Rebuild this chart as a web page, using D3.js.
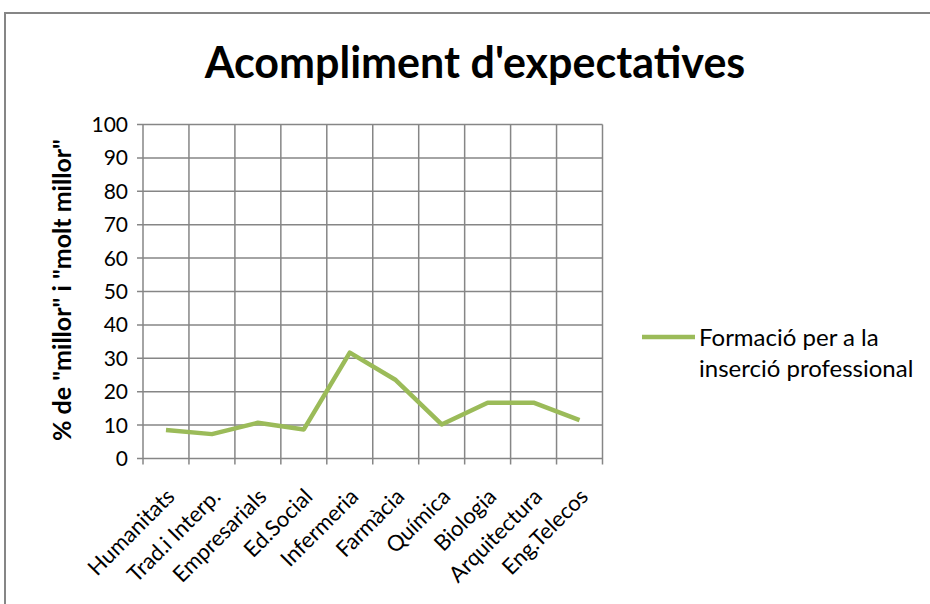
<!DOCTYPE html>
<html>
<head>
<meta charset="utf-8">
<script src="https://cdn.jsdelivr.net/npm/d3@7"></script>
<style>
  body { margin: 0; background: #fff; }
  svg { font-family: Lato, "Open Sans", sans-serif; }
</style>
</head>
<body>
<svg id="chart"></svg>
<script>
var categories = ["Humanitats", "Trad.i Interp.", "Empresarials", "Ed.Social", "Infermeria",
                  "Farmàcia", "Química", "Biologia", "Arquitectura", "Eng.Telecos"];
var values = [8.5, 7.3, 10.7, 8.7, 31.7, 23.5, 10.2, 16.7, 16.7, 11.5];
var seriesName = ["Formació per a la", "inserció professional"];
var yTicks = [0, 10, 20, 30, 40, 50, 60, 70, 80, 90, 100];

var width = 930, height = 604;
var svg = d3.select("#chart").attr("width", width).attr("height", height);

// chart frame
svg.append("rect").attr("x", 5).attr("y", 13).attr("width", 940).attr("height", 620)
  .attr("fill", "#fff").attr("stroke", "#868686").attr("stroke-width", 2);

var plotL = 143, plotR = 602.5, plotT = 124.5, plotB = 458.5;
var x = d3.scaleBand().domain(categories).range([plotL, plotR]);
var y = d3.scaleLinear().domain([0, 100]).range([plotB, plotT]);

// gridlines
var g = svg.append("g");
g.selectAll("line.h").data(yTicks).enter().append("line")
  .attr("x1", plotL - 6).attr("x2", plotR)
  .attr("y1", function(d) { return y(d); }).attr("y2", function(d) { return y(d); })
  .attr("stroke", "#868686").attr("stroke-width", 1.5);
var bounds = categories.map(function(c) { return x(c); }).concat([plotR]);
g.selectAll("line.v").data(bounds).enter().append("line")
  .attr("x1", function(d) { return d; }).attr("x2", function(d) { return d; })
  .attr("y1", plotT).attr("y2", plotB + 6)
  .attr("stroke", "#868686").attr("stroke-width", 1.5);

// y tick labels
svg.selectAll("text.yt").data(yTicks).enter().append("text")
  .attr("x", 128).attr("y", function(d) { return y(d); }).attr("dy", "0.36em")
  .attr("text-anchor", "end").attr("font-size", 21).attr("fill", "#000")
  .text(function(d) { return d; });

// x labels
svg.selectAll("text.xt").data(categories).enter().append("text")
  .attr("text-anchor", "end").attr("font-size", 22).attr("fill", "#000")
  .attr("transform", function(d) {
    return "translate(" + (x(d) + x.bandwidth() / 2 + 10) + "," + 498 + ") rotate(-45)";
  })
  .text(function(d) { return d; });

// line
var line = d3.line()
  .x(function(d, i) { return x(categories[i]) + x.bandwidth() / 2; })
  .y(function(d) { return y(d); });
svg.append("path").datum(values).attr("d", line)
  .attr("fill", "none").attr("stroke", "#9BBB59").attr("stroke-width", 4.5)
  .attr("stroke-linejoin", "round");

// title
svg.append("text").attr("x", 475).attr("y", 78).attr("text-anchor", "middle")
  .attr("font-size", 43).attr("font-weight", "bold").attr("fill", "#000")
  .text("Acompliment d'expectatives");

// y axis title
svg.append("text").attr("transform", "translate(71,290) rotate(-90)")
  .attr("text-anchor", "middle").attr("font-size", 25).attr("font-weight", "bold")
  .text('% de "millor" i "molt millor"');

// legend
svg.append("line").attr("x1", 642).attr("x2", 695).attr("y1", 337).attr("y2", 337)
  .attr("stroke", "#9BBB59").attr("stroke-width", 4.5);
svg.selectAll("text.lg").data(seriesName).enter().append("text")
  .attr("x", 699).attr("y", function(d, i) { return 346 + i * 31; })
  .attr("font-size", 24).attr("fill", "#000")
  .text(function(d) { return d; });
</script>
</body>
</html>
